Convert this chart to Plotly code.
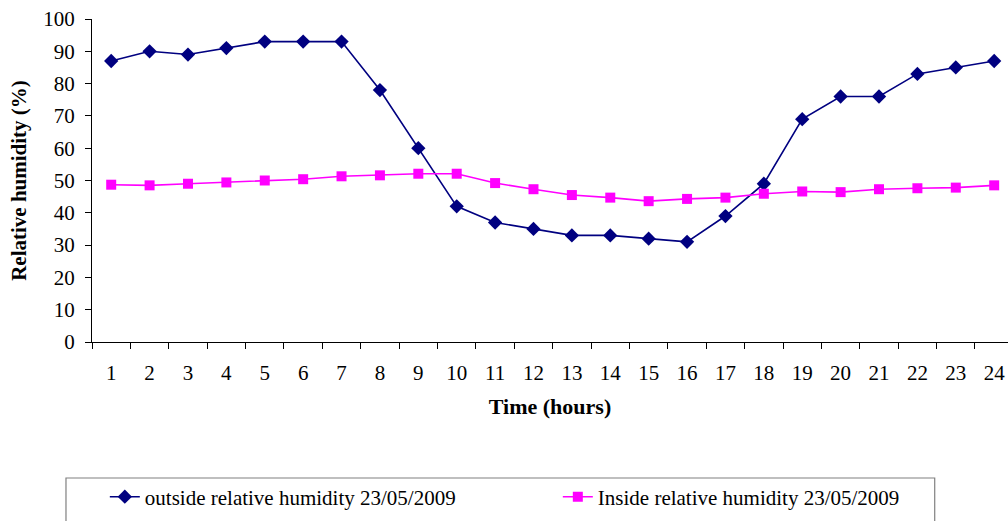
import plotly.graph_objects as go

# Hourly relative humidity readings, 23/05/2009
hours = [str(h) for h in range(1, 25)]
outside_rh = [87, 90, 89, 91, 93, 93, 93, 78, 60, 42, 37, 35,
              33, 33, 32, 31, 39, 49, 69, 76, 76, 83, 85, 87]
inside_rh = [48.7, 48.5, 49.0, 49.4, 50.0, 50.4, 51.3, 51.6, 52.1, 52.1, 49.2, 47.3,
             45.5, 44.7, 43.6, 44.3, 44.7, 45.9, 46.6, 46.4, 47.3, 47.6, 47.8, 48.5]
y_ticks = list(range(0, 101, 10))

FONT = "Liberation Serif, Times New Roman, serif"

fig = go.Figure()
fig.add_trace(go.Scatter(
    x=hours, y=outside_rh, mode="lines+markers",
    name="outside relative humidity 23/05/2009",
    line=dict(color="#000080", width=1.6),
    marker=dict(symbol="diamond", size=11, color="#000080"),
))
fig.add_trace(go.Scatter(
    x=hours, y=inside_rh, mode="lines+markers",
    name="Inside relative humidity 23/05/2009",
    line=dict(color="#FF00FF", width=1.6),
    marker=dict(symbol="square", size=10, color="#FF00FF"),
))

fig.update_layout(
    width=1008, height=521,
    margin=dict(l=92, r=0, t=19, b=179, autoexpand=False),
    paper_bgcolor="white", plot_bgcolor="white",
    font=dict(family=FONT, size=21, color="black"),
    showlegend=True,
    legend=dict(
        orientation="h",
        x=0.014, xanchor="left",
        y=-0.48, yanchor="middle",
        font=dict(family=FONT, size=21, color="black"),
        itemwidth=30,
        entrywidth=408,
        bgcolor="rgba(0,0,0,0)",
    ),
    shapes=[dict(
        type="rect", xref="paper", yref="paper",
        x0=-0.0284, x1=0.920, y0=-0.65, y1=-0.421,
        line=dict(color="#808080", width=1.2),
    )],
)

fig.update_xaxes(
    type="category",
    range=[-0.5, 23.36],
    tickson="boundaries",
    ticks="outside", ticklen=6, tickcolor="black", tickwidth=1,
    showline=True, linecolor="black", linewidth=1,
    showgrid=False, zeroline=False,
    ticklabelstandoff=12,
    title=dict(text="<b>Time (hours)</b>", font=dict(family=FONT, size=22), standoff=14),
)
fig.update_yaxes(
    range=[0, 100],
    tickmode="array", tickvals=y_ticks,
    ticks="outside", ticklen=6, tickcolor="black", tickwidth=1,
    showline=True, linecolor="black", linewidth=1,
    showgrid=False, zeroline=False,
    ticklabelstandoff=6,
    title=dict(text="<b>Relative humidity (%)</b>", font=dict(family=FONT, size=21), standoff=10),
)

fig.write_html("out.html")
